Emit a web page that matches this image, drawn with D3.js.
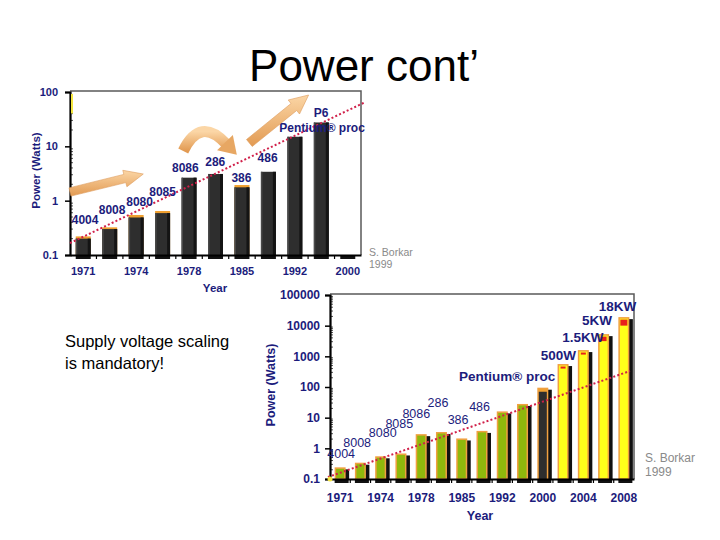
<!DOCTYPE html>
<html><head><meta charset="utf-8">
<script src="https://cdn.jsdelivr.net/npm/d3@7/dist/d3.min.js"></script>
<style>body{margin:0;background:#fff}svg{display:block}</style>
</head><body>
<svg id="c" width="720" height="540"></svg>
<script>
// ---------------- data ----------------
const title = "Power cont\u2019";
const noteLines = ["Supply voltage scaling", "is mandatory!"];
const creditLines = ["S. Borkar", "1999"];
const yAxisTitle = "Power (Watts)";
const xAxisTitle = "Year";

// chart 1 (up to 2000)
const c1Years = ["1971","","1974","","1978","","1985","","1992","","2000"];
const c1Power = [0.2, 0.3, 0.49, 0.59, 2.65, 3.1, 1.76, 3.4, 15, 27.5, 0.1];
const c1Cap   = [0.22, 0.323, 0.545, 0.646, null, null, 1.94, null, null, null, null];
const c1YTicks = [0.1, 1, 10, 100];
const c1ChipNames = ["4004","8008","8080","8085","8086","286","386","486","P6","Pentium\u00ae proc"];
const c1ChipSlot  = [0.07, 1.09, 2.13, 3.0, 3.86, 4.99, 5.98, 6.97, 8.99, 9.03];
const c1ChipVal   = [0.375, 0.574, 0.81, 1.24, 3.3, 4.27, 2.24, 5.1, 34.4, 18.2];
const c1TrendSlot = [-0.5, 10.67];
const c1TrendVal  = [0.166, 65.5];

// chart 2 (up to 2008)
const c2Years = ["1971","","1974","","1978","","1985","","1992","","2000","","2004","","2008"];
const c2Power = [0.24, 0.34, 0.55, 0.68, 2.9, 3.4, 2.1, 3.7, 16, 28, 95, 560, 1600, 5300, 19000];
const c2Inner = [null, null, null, null, null, null, null, null, null, null, 70, null, null, null, null];
const c2Kind  = ["g","g","g","g","g","g","g","g","g","g","d","y","y","y","y"];
const c2YTicks = [0.1, 1, 10, 100, 1000, 10000, 100000];
const c2ChipNames = ["4004","8008","8080","8085","8086","286","386","486","Pentium\u00ae proc","500W","1.5KW","5KW","18KW"];
const c2ChipSlot  = [0.05, 0.84, 2.1, 2.92, 3.76, 4.83, 5.82, 6.88, 8.24, 10.77, 11.98, 12.67, 13.69];
const c2ChipVal   = [0.486, 1.11, 2.36, 4.64, 9.83, 22.5, 6.27, 16.7, 159, 776, 2998, 10900, 29000];
const c2ChipBold  = [false,false,false,false,false,false,false,false,true,true,true,true,true];
const c2TrendSlot = [-0.6, 14.3];
const c2TrendVal  = [0.116, 332];

// decorative arrows on chart 1, in [slot, value] space
const arrowA = [[-0.5, 1.445], [2.27, 3.10]];
const arrowB = [[6.28, 11.5], [8.52, 88]];
const arrowCurve = [[3.78, 8.2], [4.42, 36.2], [5.41, 11.0], [5.9, 6.6]];

// ---------------- drawing ----------------
const svg = d3.select("#c");
const FONT = "Arial, 'Liberation Sans', Helvetica, sans-serif";
const NAVY = "#1c1c7c";
const defs = svg.append("defs");
const g1 = defs.append("linearGradient").attr("id","arrowGrad").attr("x1","0").attr("y1","0").attr("x2","0").attr("y2","1");
g1.append("stop").attr("offset","0").attr("stop-color","#fbd6a6");
g1.append("stop").attr("offset","1").attr("stop-color","#e29a52");

svg.append("rect").attr("width",720).attr("height",540).attr("fill","#fff");

svg.append("text").attr("x",364).attr("y",81).attr("text-anchor","middle")
  .attr("font-family",FONT).attr("font-size",44).attr("fill","#000").text(title);

svg.append("text").attr("font-family",FONT).attr("font-size",16.5).attr("fill","#000")
  .selectAll("tspan").data(noteLines).join("tspan")
  .attr("x",65).attr("y",(d,i)=>347+i*22).text(d=>d);

function arrowPoly(T, P, sw, hl, hw) {
  const dx = P[0]-T[0], dy = P[1]-T[1], L = Math.hypot(dx,dy);
  const ux = dx/L, uy = dy/L, nx = -uy, ny = ux;
  const Bx = P[0]-ux*hl, By = P[1]-uy*hl;
  const pts = [
    [T[0]+nx*sw/2, T[1]+ny*sw/2], [Bx+nx*sw/2, By+ny*sw/2], [Bx+nx*hw/2, By+ny*hw/2],
    P, [Bx-nx*hw/2, By-ny*hw/2], [Bx-nx*sw/2, By-ny*sw/2], [T[0]-nx*sw/2, T[1]-ny*sw/2]];
  return "M" + pts.map(p=>p[0].toFixed(1)+","+p[1].toFixed(1)).join("L") + "Z";
}

function drawChart(cfg) {
  const g = svg.append("g");
  const x = d3.scaleBand().domain(d3.range(cfg.years.length)).range([cfg.x0, cfg.x1]);
  const bwStep = x.bandwidth();
  const sx = d3.scaleLinear().domain([0,1]).range([x(0)+bwStep/2, x(1)+bwStep/2]);
  const y = d3.scaleLog().domain(cfg.yDomain).range([cfg.yb, cfg.yt]);

  // frame
  g.append("path").attr("d",`M${cfg.x0},${cfg.yt-1}H${cfg.x1}V${cfg.yb}`)
    .attr("fill","none").attr("stroke","#5a5a5a").attr("stroke-width",1.5);

  // minor y ticks
  const minors = [];
  for (let e = Math.log10(cfg.yDomain[0]); e < Math.log10(cfg.yDomain[1]) - 0.01; e++) {
    for (let m = 2; m <= 9; m++) minors.push(m*Math.pow(10,e));
  }
  g.append("g").selectAll("line").data(minors).join("line")
    .attr("x1",cfg.x0).attr("x2",cfg.x0+3).attr("y1",d=>y(d)).attr("y2",d=>y(d))
    .attr("stroke","#222").attr("stroke-width",0.8);

  // y axis
  const ya = g.append("g").attr("transform",`translate(${cfg.x0},0)`)
    .call(d3.axisLeft(y).tickValues(cfg.yTicks).tickFormat(d=>String(d)).tickSize(5).tickPadding(cfg.yPad));
  ya.select(".domain").attr("stroke","#000").attr("stroke-width",2.2);
  ya.selectAll(".tick line").attr("stroke","#000").attr("stroke-width",1.5);
  ya.selectAll("text").attr("font-family",FONT).attr("font-weight","bold")
    .attr("font-size",cfg.tickFs).attr("fill",NAVY);

  // bars
  const bars = g.append("g");
  cfg.drawBars(bars, x, y, bwStep);

  // x axis
  const xa = g.append("g").attr("transform",`translate(0,${cfg.yb})`)
    .call(d3.axisBottom(x).tickSize(0).tickPadding(cfg.xPad).tickFormat(i=>cfg.years[i]));
  xa.select(".domain").attr("stroke","#000").attr("stroke-width",2.2);
  xa.selectAll("text").attr("font-family",FONT).attr("font-weight","bold")
    .attr("font-size",cfg.tickFs).attr("fill",NAVY);
  // boundary ticks
  g.append("g").selectAll("line").data(d3.range(1, cfg.years.length)).join("line")
    .attr("x1",i=>x(i)).attr("x2",i=>x(i)).attr("y1",cfg.yb).attr("y2",cfg.yb+4)
    .attr("stroke","#000").attr("stroke-width",1.2);

  // trend line
  const line = d3.line().x(d=>sx(d[0])).y(d=>y(d[1]));
  g.append("path").attr("d", line(cfg.trendSlot.map((s,i)=>[s, cfg.trendVal[i]])))
    .attr("fill","none").attr("stroke","#d0204a").attr("stroke-width",2)
    .attr("stroke-dasharray","2,2.2");

  // chip labels
  g.append("g").selectAll("text").data(cfg.chipNames).join("text")
    .attr("x",(d,i)=>sx(cfg.chipSlot[i])).attr("y",(d,i)=>y(cfg.chipVal[i]))
    .attr("text-anchor","middle").attr("font-family",FONT)
    .attr("font-weight",(d,i)=>cfg.chipBold[i]?"bold":"normal")
    .attr("font-size",(d,i)=>cfg.chipBold[i]?cfg.chipFsBold:cfg.chipFs).attr("fill",NAVY).text(d=>d);

  // axis titles
  g.append("text").attr("transform",`translate(${cfg.ytX},${(cfg.yt+cfg.yb)/2+cfg.ytDy}) rotate(-90)`)
    .attr("text-anchor","middle").attr("font-family",FONT).attr("font-weight","bold")
    .attr("font-size",cfg.titleFs).attr("fill",NAVY).text(yAxisTitle);
  g.append("text").attr("x",cfg.xtX).attr("y",cfg.xtY).attr("text-anchor","middle")
    .attr("font-family",FONT).attr("font-weight","bold")
    .attr("font-size",cfg.titleFs).attr("fill",NAVY).text(xAxisTitle);

  // credit
  g.append("text").attr("font-family",FONT).attr("font-size",cfg.creditFs).attr("fill","#8a8a8a")
    .selectAll("tspan").data(creditLines).join("tspan")
    .attr("x",cfg.creditX).attr("y",(d,i)=>cfg.creditY+i*cfg.creditDy).text(d=>d);

  return {x, sx, y, g};
}

// ---- chart 1
const C1 = drawChart({
  years: c1Years, x0: 70, x1: 361, yt: 92, yb: 255, yDomain: [0.1, 100], yTicks: c1YTicks,
  yPad: 7, xPad: 12, tickFs: 11, chipFs: 12, chipFsBold: 12, titleFs: 11.5,
  chipNames: c1ChipNames, chipSlot: c1ChipSlot, chipVal: c1ChipVal,
  chipBold: c1ChipNames.map(()=>true),
  trendSlot: c1TrendSlot, trendVal: c1TrendVal,
  ytX: 40, ytDy: -3, xtX: 215, xtY: 292,
  creditX: 369, creditY: 256, creditDy: 12, creditFs: 10.5,
  drawBars: (gb, x, y, step) => {
    const bw = 15;
    c1Power.forEach((v,i)=>{
      const cx = x(i)+step/2;
      gb.append("rect").attr("x",cx-bw/2).attr("y",y.range()[0]).attr("width",bw).attr("height",4).attr("fill","#111");
      if (v > 0.1001) {
        const top = y(v), base = y.range()[0];
        if (c1Cap[i] != null) {
          gb.append("rect").attr("x",cx-bw/2).attr("y",y(c1Cap[i])).attr("width",bw)
            .attr("height",base-y(c1Cap[i])).attr("fill","#f0a030");
        }
        gb.append("rect").attr("x",cx-bw/2).attr("y",top).attr("width",bw).attr("height",base-top).attr("fill","#2e2e2e");
        gb.append("rect").attr("x",cx+bw/2-3).attr("y",top).attr("width",3).attr("height",base-top).attr("fill","#141414");
        gb.append("rect").attr("x",cx-bw/2).attr("y",top).attr("width",1.5).attr("height",base-top).attr("fill","#4a4a4a");
      }
    });
  }
});

// arrows on chart 1
{
  const P = d => [C1.sx(d[0]), C1.y(d[1])];
  const ag = C1.g.append("g");
  ag.append("path").attr("d", arrowPoly(P(arrowA[0]), P(arrowA[1]), 8.5, 19, 17))
    .attr("fill","url(#arrowGrad)").attr("stroke","#dd9a5a").attr("stroke-width",0.6);
  ag.append("path").attr("d", arrowPoly(P(arrowB[0]), P(arrowB[1]), 9, 19, 18))
    .attr("fill","url(#arrowGrad)").attr("stroke","#dd9a5a").attr("stroke-width",0.6);
  const p0 = P(arrowCurve[0]), pc = P(arrowCurve[1]), p1 = P(arrowCurve[2]), tip = P(arrowCurve[3]);
  ag.append("path").attr("d",`M${p0[0]},${p0[1]}Q${pc[0]},${pc[1]} ${p1[0]},${p1[1]}`)
    .attr("fill","none").attr("stroke","url(#arrowGrad)").attr("stroke-width",11);
  const dx = tip[0]-pc[0], dy = tip[1]-pc[1], L = Math.hypot(dx,dy);
  const ux = dx/L, uy = dy/L, nx = -uy, ny = ux;
  const hw = 11;
  const bx = p1[0]-ux*2, by = p1[1]-uy*2;
  const tipPt = [bx+ux*17, by+uy*17];
  ag.append("path").attr("d",`M${bx+nx*hw},${by+ny*hw}L${tipPt[0]},${tipPt[1]}L${bx-nx*hw},${by-ny*hw}Z`)
    .attr("fill","#e7a763");
  C1.g.append("line").attr("x1",72).attr("x2",72).attr("y1",C1.y(100)+2).attr("y2",C1.y(40))
    .attr("stroke","#f4e640").attr("stroke-width",2);
}

// ---- chart 2
const C2 = drawChart({
  years: c2Years, x0: 330, x1: 634, yt: 295, yb: 479, yDomain: [0.1, 100000], yTicks: c2YTicks,
  yPad: 5, xPad: 14, tickFs: 12, chipFs: 12.5, chipFsBold: 13.5, titleFs: 12.5,
  chipNames: c2ChipNames, chipSlot: c2ChipSlot, chipVal: c2ChipVal, chipBold: c2ChipBold,
  trendSlot: c2TrendSlot, trendVal: c2TrendVal,
  ytX: 275, ytDy: -2, xtX: 480, xtY: 520,
  creditX: 645, creditY: 462, creditDy: 14, creditFs: 12,
  drawBars: (gb, x, y, step) => {
    const bw = 11;
    c2Power.forEach((v,i)=>{
      const cx = x(i)+step/2, base = y.range()[0], top = y(v);
      gb.append("rect").attr("x",cx-bw/2).attr("y",base).attr("width",bw+3).attr("height",4).attr("fill","#111");
      gb.append("rect").attr("x",cx-bw/2+3.5).attr("y",top+2).attr("width",bw).attr("height",base-top-2).attr("fill","#111");
      const fill = c2Kind[i]==="g" ? "#8fb80c" : c2Kind[i]==="y" ? "#ffff1a" : "#f0a030";
      gb.append("rect").attr("x",cx-bw/2+0.75).attr("y",top+0.75).attr("width",bw-1.5).attr("height",base-top-0.75)
        .attr("fill",fill).attr("stroke","#f0a040").attr("stroke-width",1.5);
      if (c2Inner[i] != null) {
        gb.append("rect").attr("x",cx-bw/2+1.5).attr("y",y(c2Inner[i])).attr("width",bw-3)
          .attr("height",base-y(c2Inner[i])).attr("fill","#2e2e2e");
      }
    });
    const redH = {11: 2, 12: 2, 13: 4.5, 14: 6};
    const redW = {11: 5, 12: 5, 13: 6, 14: 7};
    Object.keys(redH).forEach(k=>{
      const i = +k, cx = x(i)+step/2;
      gb.append("rect").attr("x",cx-redW[i]/2).attr("y",y(c2Power[i])+2.5).attr("width",redW[i]).attr("height",redH[i]).attr("fill","#e8201c");
    });
  }
});
C2.g.append("circle").attr("cx",330).attr("cy",479).attr("r",2.5).attr("fill","#f4e640");
</script>
</body></html>
